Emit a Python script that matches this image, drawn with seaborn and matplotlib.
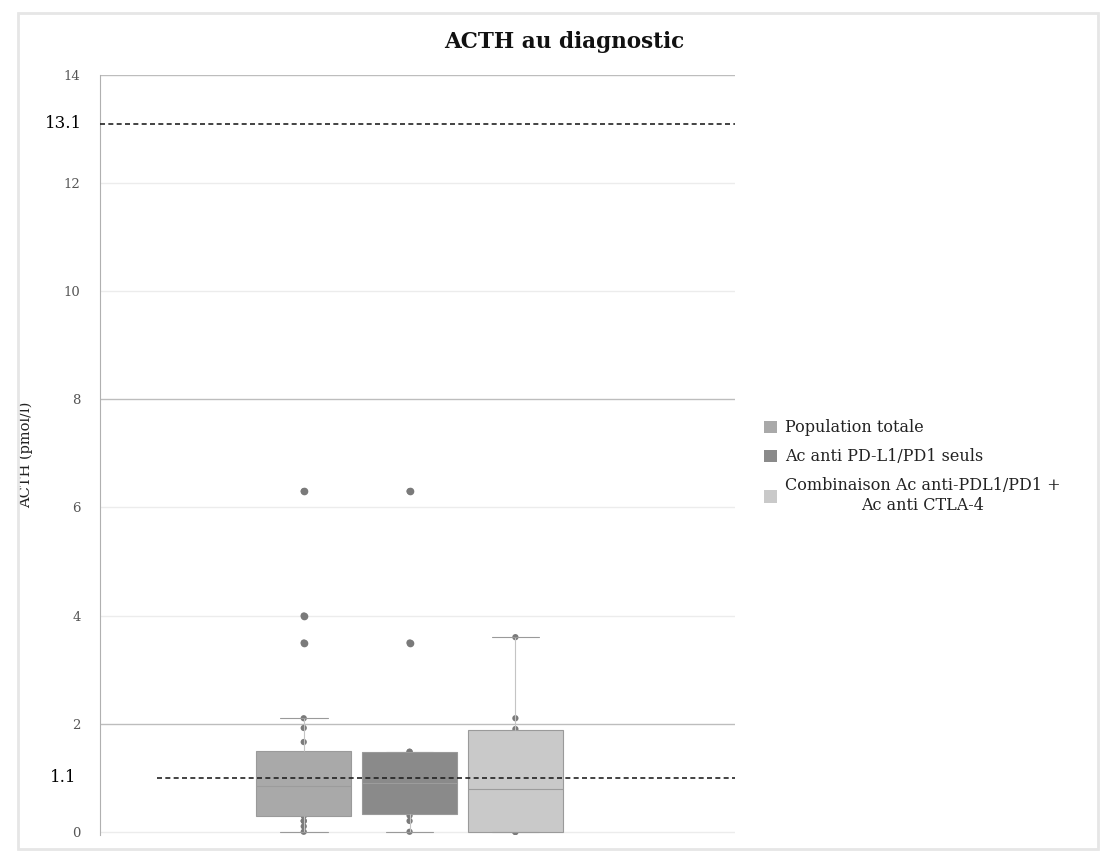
import numpy as np
import pandas as pd
import matplotlib.pyplot as plt
import seaborn as sns
from matplotlib.patches import Rectangle

# values (ACTH, pmol/l)
groups = ['Population totale', 'Ac anti PD-L1/PD1 seuls',
          'Combinaison Ac anti-PDL1/PD1 +\nAc anti CTLA-4']
pop_totale = [0.0, 0.1, 0.2, 0.2, 0.3, 0.3, 0.3, 0.5, 0.6, 0.7, 0.8, 0.9, 1.0, 1.0,
              1.0, 1.02, 1.66, 1.92, 2.1, 3.5, 4.0, 6.3]
pd1_seuls = [0.0, 0.2, 0.3, 0.34, 0.5, 0.8, 1.0, 1.2, 1.48, 1.48, 3.5, 6.3]
combinaison = [0.0, 0.0, 0.0, 0.0, 0.6, 1.0, 1.8, 1.9, 2.1, 3.6]
colors = ['#a9a9a9', '#8a8a8a', '#c9c9c9']
yticks = [0, 2, 4, 6, 8, 10, 12, 14]
strong_grid = [2, 8, 14]
ref_low, ref_high = 1.0, 13.1
ref_labels = ['1.1', '13.1']

df = pd.DataFrame({
    'groupe': [groups[0]] * len(pop_totale) + [groups[1]] * len(pd1_seuls) + [groups[2]] * len(combinaison),
    'acth': pop_totale + pd1_seuls + combinaison,
})
df['x'] = 'ACTH'

sns.set_style('white')
plt.rcParams['font.family'] = ['DejaVu Serif', 'Liberation Serif']

fig = plt.figure(figsize=(11.14, 8.59), dpi=100)
ax = fig.add_axes([100 / 1114, 1 - 835 / 859, 635 / 1114, (835 - 75) / 859])

# grid
for t in yticks:
    ax.axhline(t, color='#bdbdbd' if t in strong_grid else '#ececec', lw=1.0, zorder=0)

# points under the boxes, then the boxes
sns.stripplot(data=df, x='x', y='acth', hue='groupe', hue_order=groups, dodge=True,
              jitter=False, palette=['#7a7a7a'] * 3, size=4.5, legend=False, ax=ax, zorder=1)
sns.boxplot(data=df, x='x', y='acth', hue='groupe', hue_order=groups, palette=colors,
            gap=0.1, saturation=1, fliersize=4.5, linewidth=0.8, ax=ax,
            boxprops=dict(edgecolor='#9a9a9a', zorder=2),
            whiskerprops=dict(color='#c4c4c4'),
            capprops=dict(color='#9a9a9a'),
            medianprops=dict(color='#9c9c9c', lw=0.8),
            flierprops=dict(marker='o', markerfacecolor='#7a7a7a', markeredgecolor='#7a7a7a'))

# reference lines
ax.axhline(ref_low, color='#222222', ls=(0, (3, 2)), lw=1.2, xmin=0.09, zorder=4)
ax.axhline(ref_high, color='#222222', ls=(0, (3, 2)), lw=1.2, zorder=4)
for v, lab in zip([ref_low, ref_high], ref_labels):
    ax.text(-0.058, v, lab, transform=ax.get_yaxis_transform(), ha='center', va='center',
            fontsize=12, color='#000000')

ax.set_xlim(-0.78, 0.82)
ax.set_ylim(-0.06, 14)
ax.set_yticks(yticks)
ax.set_yticklabels([str(t) for t in yticks], fontsize=9.5, color='#555555')
ax.tick_params(axis='y', length=0, pad=14)
ax.set_xticks([])
ax.set_xlabel('')
ax.set_ylabel('ACTH (pmol/l)', fontsize=10.5, color='#222222')
ax.yaxis.set_label_coords(-0.105, 0.5)
for s in ['top', 'right', 'bottom']:
    ax.spines[s].set_visible(False)
ax.spines['left'].set_color('#b0b0b0')

ax.get_legend().remove()
handles = [Rectangle((0, 0), 1, 1, facecolor=c, edgecolor='none') for c in colors]
leg = fig.legend(handles, groups, loc='upper left', bbox_to_anchor=(750 / 1114, 1 - 405 / 859),
                 frameon=False, fontsize=11.5, handlelength=0.8, handleheight=0.8,
                 handletextpad=0.5, labelspacing=0.75)
for txt in leg.get_texts():
    txt.set_multialignment('center')
    txt.set_color('#222222')

fig.text(564 / 1114, 1 - 42 / 859, 'ACTH au diagnostic', ha='center', va='center',
         fontsize=15.5, fontweight='bold', color='#111111')

fig.patches.append(Rectangle((18 / 1114, 10 / 859), 1080 / 1114, 836 / 859, transform=fig.transFigure,
                             fill=False, edgecolor='#e6e6e6', lw=2))

fig.savefig('out.png', dpi=100)
